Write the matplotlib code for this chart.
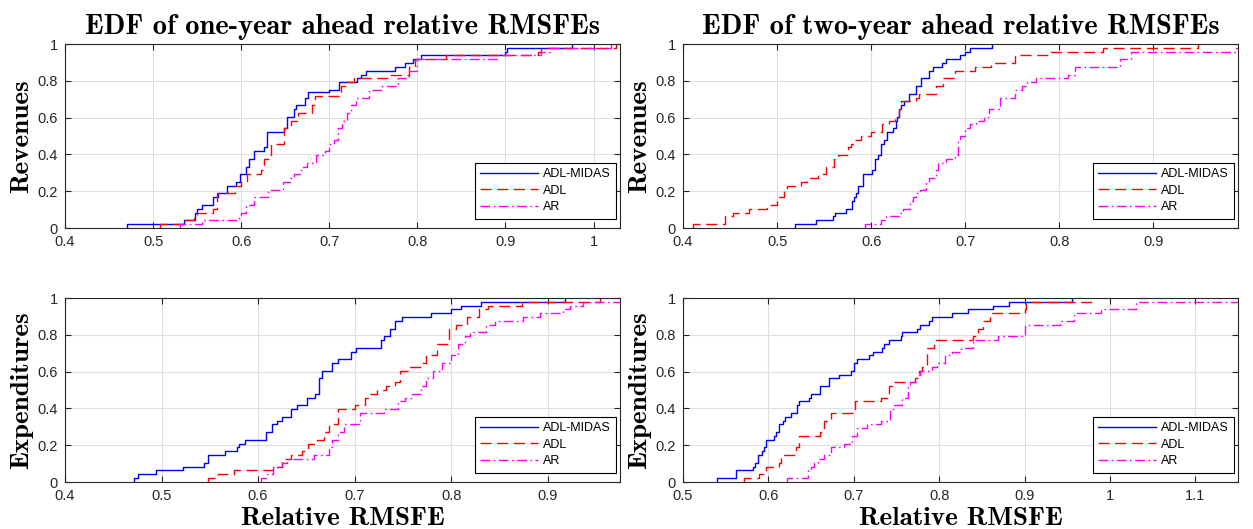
import numpy as np
import matplotlib
matplotlib.use('Agg')
import matplotlib.pyplot as plt
from matplotlib.ticker import FuncFormatter, MultipleLocator

# ---- data: EDF breakpoints (x) and levels (y) ----
# Revenues, one-year ahead
rev1_midas_x = [0.470, 0.535, 0.547, 0.550, 0.555, 0.568, 0.574, 0.584, 0.594, 0.599,
                0.605, 0.609, 0.614, 0.626, 0.629, 0.649, 0.652, 0.660, 0.662, 0.673,
                0.676, 0.700, 0.711, 0.732, 0.736, 0.742, 0.775, 0.786, 0.795, 0.804,
                0.899, 0.902, 0.975]
rev1_midas_y = [0.021, 0.042, 0.083, 0.104, 0.125, 0.167, 0.188, 0.229, 0.250, 0.292,
                0.333, 0.375, 0.417, 0.438, 0.521, 0.542, 0.604, 0.646, 0.667, 0.708,
                0.740, 0.750, 0.792, 0.813, 0.833, 0.854, 0.875, 0.896, 0.917, 0.938,
                0.958, 0.979, 1.000]
rev1_adl_x = [0.508, 0.535, 0.546, 0.550, 0.568, 0.572, 0.593, 0.600, 0.607, 0.622,
              0.626, 0.634, 0.649, 0.657, 0.665, 0.680, 0.684, 0.713, 0.720, 0.728,
              0.770, 0.790, 0.797, 0.833, 0.937, 0.940, 1.025]
rev1_adl_y = [0.021, 0.042, 0.063, 0.083, 0.104, 0.188, 0.229, 0.250, 0.292, 0.313,
              0.375, 0.458, 0.542, 0.583, 0.625, 0.667, 0.719, 0.771, 0.792, 0.813,
              0.833, 0.875, 0.917, 0.938, 0.958, 0.979, 1.000]
rev1_ar_x = [0.530, 0.555, 0.597, 0.600, 0.605, 0.615, 0.630, 0.648, 0.655, 0.660,
             0.668, 0.675, 0.685, 0.695, 0.700, 0.705, 0.710, 0.715, 0.720, 0.725,
             0.730, 0.745, 0.760, 0.778, 0.790, 0.800, 0.890, 0.940, 0.950, 1.020]
rev1_ar_y = [0.021, 0.042, 0.063, 0.083, 0.125, 0.167, 0.208, 0.250, 0.271, 0.292,
             0.333, 0.354, 0.396, 0.417, 0.458, 0.479, 0.542, 0.583, 0.625, 0.667,
             0.708, 0.750, 0.771, 0.813, 0.854, 0.917, 0.938, 0.958, 0.979, 1.000]

# Revenues, two-year ahead
rev2_midas_x = [0.519, 0.541, 0.559, 0.562, 0.573, 0.580, 0.582, 0.584, 0.586, 0.591,
                0.601, 0.604, 0.607, 0.610, 0.614, 0.617, 0.623, 0.626, 0.628, 0.630,
                0.632, 0.635, 0.640, 0.648, 0.653, 0.662, 0.666, 0.675, 0.680, 0.695,
                0.700, 0.705, 0.728]
rev2_midas_y = [0.021, 0.042, 0.063, 0.083, 0.104, 0.146, 0.167, 0.188, 0.229, 0.292,
                0.313, 0.375, 0.396, 0.458, 0.479, 0.521, 0.542, 0.583, 0.604, 0.646,
                0.667, 0.688, 0.729, 0.771, 0.813, 0.854, 0.875, 0.896, 0.917, 0.938,
                0.958, 0.979, 1.000]
rev2_adl_x = [0.411, 0.445, 0.453, 0.470, 0.489, 0.500, 0.502, 0.507, 0.511, 0.525,
              0.532, 0.543, 0.552, 0.560, 0.565, 0.575, 0.579, 0.582, 0.589, 0.600,
              0.612, 0.619, 0.625, 0.630, 0.632, 0.648, 0.651, 0.669, 0.676, 0.689,
              0.710, 0.727, 0.753, 0.790, 0.846, 0.947]
rev2_adl_y = [0.021, 0.063, 0.083, 0.104, 0.125, 0.146, 0.167, 0.208, 0.229, 0.250,
              0.271, 0.292, 0.333, 0.375, 0.396, 0.438, 0.458, 0.479, 0.500, 0.521,
              0.563, 0.583, 0.604, 0.646, 0.688, 0.708, 0.729, 0.771, 0.813, 0.854,
              0.875, 0.896, 0.938, 0.958, 0.979, 1.000]
rev2_ar_x = [0.593, 0.610, 0.616, 0.630, 0.634, 0.641, 0.645, 0.648, 0.652, 0.658,
             0.662, 0.669, 0.671, 0.680, 0.689, 0.692, 0.695, 0.700, 0.705, 0.711,
             0.720, 0.725, 0.737, 0.753, 0.760, 0.766, 0.775, 0.809, 0.817, 0.865,
             0.876, 0.988, 1.010]
rev2_ar_y = [0.021, 0.042, 0.063, 0.083, 0.104, 0.146, 0.167, 0.188, 0.208, 0.250,
             0.271, 0.313, 0.354, 0.375, 0.396, 0.479, 0.500, 0.542, 0.563, 0.583,
             0.604, 0.646, 0.708, 0.750, 0.771, 0.792, 0.813, 0.833, 0.875, 0.917,
             0.958, 0.979, 1.000]

# Expenditures, one-year ahead
exp1_midas_x = [0.471, 0.476, 0.494, 0.522, 0.544, 0.548, 0.566, 0.578, 0.580, 0.587,
                0.608, 0.614, 0.620, 0.625, 0.634, 0.640, 0.651, 0.659, 0.663, 0.666,
                0.677, 0.683, 0.696, 0.702, 0.727, 0.730, 0.737, 0.742, 0.749, 0.779,
                0.800, 0.810, 0.831, 0.918]
exp1_midas_y = [0.021, 0.042, 0.063, 0.083, 0.104, 0.146, 0.167, 0.188, 0.208, 0.229,
                0.271, 0.313, 0.333, 0.354, 0.396, 0.417, 0.458, 0.479, 0.563, 0.604,
                0.646, 0.667, 0.708, 0.729, 0.771, 0.792, 0.833, 0.875, 0.896, 0.917,
                0.938, 0.958, 0.979, 1.000]
exp1_adl_x = [0.548, 0.558, 0.575, 0.615, 0.625, 0.634, 0.646, 0.652, 0.661, 0.668,
              0.673, 0.683, 0.700, 0.711, 0.716, 0.723, 0.733, 0.742, 0.747, 0.756,
              0.769, 0.774, 0.785, 0.798, 0.805, 0.817, 0.829, 0.838, 0.873, 0.954]
exp1_adl_y = [0.021, 0.042, 0.063, 0.083, 0.125, 0.146, 0.167, 0.208, 0.229, 0.271,
              0.313, 0.396, 0.417, 0.458, 0.479, 0.500, 0.521, 0.542, 0.604, 0.625,
              0.646, 0.688, 0.750, 0.833, 0.854, 0.896, 0.938, 0.958, 0.979, 1.000]
exp1_ar_x = [0.603, 0.609, 0.616, 0.625, 0.630, 0.658, 0.673, 0.677, 0.683, 0.689,
             0.706, 0.730, 0.745, 0.752, 0.759, 0.769, 0.774, 0.781, 0.791, 0.800,
             0.807, 0.814, 0.820, 0.836, 0.846, 0.875, 0.892, 0.916, 0.923, 0.937,
             0.990]
exp1_ar_y = [0.021, 0.042, 0.083, 0.104, 0.125, 0.146, 0.188, 0.229, 0.271, 0.313,
             0.375, 0.396, 0.438, 0.458, 0.479, 0.521, 0.563, 0.604, 0.646, 0.688,
             0.750, 0.792, 0.813, 0.854, 0.875, 0.896, 0.917, 0.938, 0.958, 0.979,
             1.000]

# Expenditures, two-year ahead
exp2_midas_x = [0.540, 0.562, 0.582, 0.584, 0.588, 0.592, 0.595, 0.597, 0.607, 0.609,
                0.613, 0.617, 0.620, 0.626, 0.633, 0.636, 0.648, 0.650, 0.661, 0.671,
                0.683, 0.697, 0.700, 0.704, 0.718, 0.722, 0.733, 0.735, 0.741, 0.755,
                0.757, 0.774, 0.777, 0.788, 0.792, 0.815, 0.834, 0.863, 0.882, 0.955]
exp2_midas_y = [0.021, 0.063, 0.083, 0.104, 0.146, 0.167, 0.188, 0.229, 0.250, 0.271,
                0.313, 0.333, 0.354, 0.375, 0.417, 0.438, 0.458, 0.479, 0.521, 0.563,
                0.583, 0.604, 0.646, 0.667, 0.688, 0.708, 0.729, 0.750, 0.771, 0.792,
                0.813, 0.833, 0.854, 0.875, 0.896, 0.917, 0.938, 0.958, 0.979, 1.000]
exp2_adl_x = [0.571, 0.589, 0.597, 0.613, 0.615, 0.632, 0.636, 0.660, 0.665, 0.673,
              0.702, 0.732, 0.741, 0.747, 0.772, 0.776, 0.780, 0.786, 0.794, 0.840,
              0.845, 0.851, 0.859, 0.900, 0.902, 0.978]
exp2_adl_y = [0.021, 0.042, 0.083, 0.104, 0.146, 0.188, 0.250, 0.271, 0.333, 0.375,
              0.438, 0.458, 0.521, 0.542, 0.563, 0.604, 0.625, 0.729, 0.771, 0.792,
              0.833, 0.875, 0.917, 0.938, 0.979, 1.000]
exp2_ar_x = [0.622, 0.646, 0.650, 0.654, 0.658, 0.665, 0.673, 0.689, 0.698, 0.704,
             0.716, 0.732, 0.743, 0.747, 0.757, 0.763, 0.766, 0.774, 0.778, 0.792,
             0.797, 0.807, 0.815, 0.826, 0.840, 0.869, 0.900, 0.941, 0.958, 0.990,
             1.030, 1.160]
exp2_ar_y = [0.021, 0.063, 0.083, 0.104, 0.125, 0.146, 0.188, 0.208, 0.250, 0.292,
             0.313, 0.333, 0.396, 0.417, 0.458, 0.521, 0.542, 0.583, 0.604, 0.625,
             0.646, 0.688, 0.708, 0.729, 0.771, 0.792, 0.854, 0.875, 0.917, 0.938,
             0.979, 1.000]

series_labels = ['ADL-MIDAS', 'ADL', 'AR']
titles = ['EDF of one-year ahead relative RMSFEs', 'EDF of two-year ahead relative RMSFEs']
row_labels = ['Revenues', 'Expenditures']
xlabel = 'Relative RMSFE'

panels = [
    [(rev1_midas_x, rev1_midas_y), (rev1_adl_x, rev1_adl_y), (rev1_ar_x, rev1_ar_y)],
    [(rev2_midas_x, rev2_midas_y), (rev2_adl_x, rev2_adl_y), (rev2_ar_x, rev2_ar_y)],
    [(exp1_midas_x, exp1_midas_y), (exp1_adl_x, exp1_adl_y), (exp1_ar_x, exp1_ar_y)],
    [(exp2_midas_x, exp2_midas_y), (exp2_adl_x, exp2_adl_y), (exp2_ar_x, exp2_ar_y)],
]
xlims = [(0.4, 1.03), (0.4, 0.99), (0.4, 0.975), (0.5, 1.15)]

styles = [dict(color='#0000ff', linestyle='-'),
          dict(color='#ff0000', linestyle=(0, (8, 4))),
          dict(color='#ff00ff', linestyle=(0, (7, 2.5, 1.2, 2.5)))]

# ---- figure ----
fig = plt.figure(figsize=(12.53, 5.29), dpi=100)
ax_w, ax_h = 555 / 1253, 184 / 529
lefts = [65 / 1253, 683 / 1253]
bottoms = [1 - 228 / 529, 1 - 482 / 529]

serif = 'cmb10'
tick_col = '#262626'

for i, data in enumerate(panels):
    row, col = divmod(i, 2)
    ax = fig.add_axes([lefts[col], bottoms[row], ax_w, ax_h])
    for (xs, ys), lab, st in zip(data, series_labels, styles):
        xs = np.asarray(xs)
        ys = np.asarray(ys)
        ax.step(np.r_[xs[0], xs], np.r_[0.0, ys], where='post', lw=1.0,
                label=lab, **st)
    ax.set_xlim(*xlims[i])
    ax.set_ylim(0, 1)
    ax.xaxis.set_major_locator(MultipleLocator(0.1))
    ax.yaxis.set_major_locator(MultipleLocator(0.2))
    ax.xaxis.set_major_formatter(FuncFormatter(lambda v, p: '%g' % round(v, 2)))
    ax.yaxis.set_major_formatter(FuncFormatter(lambda v, p: '%g' % round(v, 2)))
    ax.grid(True, color='#dedede', lw=0.8)
    ax.set_axisbelow(True)
    ax.tick_params(direction='in', top=True, right=True, length=4, width=0.8,
                   colors=tick_col, labelsize=10.5, pad=5)
    for lbl in ax.get_xticklabels() + ax.get_yticklabels():
        lbl.set_family('Liberation Sans')
    for sp in ax.spines.values():
        sp.set_color(tick_col)
        sp.set_linewidth(0.8)
    if row == 0:
        ax.set_title(titles[col], family=serif, fontsize=20.5, pad=7)
    else:
        ax.set_xlabel(xlabel, family=serif, fontsize=19.5, labelpad=3)
    ax.set_ylabel(row_labels[row], family=serif, fontsize=19.5, labelpad=3)
    leg = ax.legend(loc='lower right', bbox_to_anchor=(0.993, 0.05), borderaxespad=0,
                    fancybox=False, edgecolor='black', framealpha=1,
                    prop={'family': 'Liberation Sans', 'size': 9},
                    handlelength=4.6, handletextpad=0.4, labelspacing=0.35,
                    borderpad=0.45)
    leg.get_frame().set_linewidth(0.8)

fig.savefig('out.png', dpi=100)
